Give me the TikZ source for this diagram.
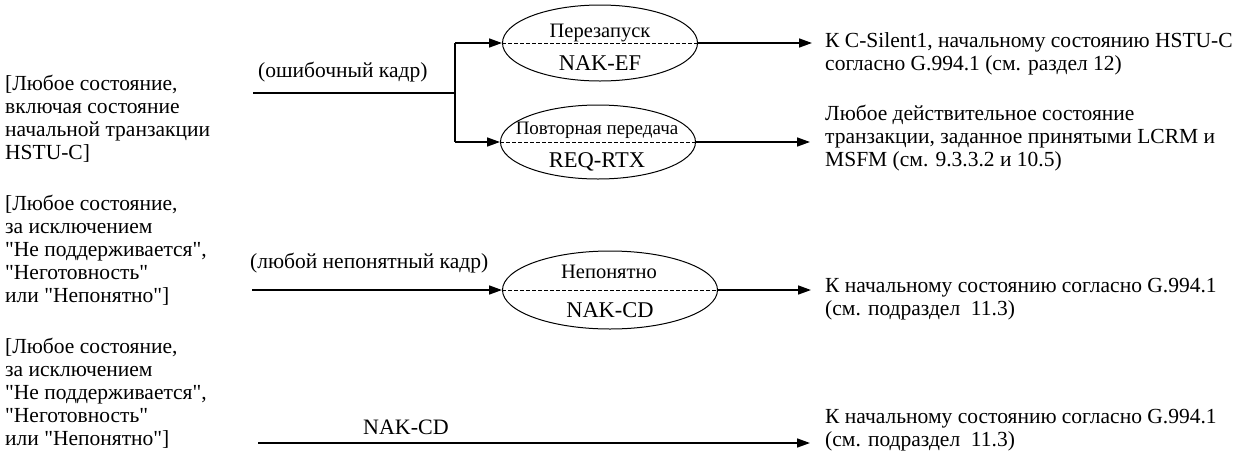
\documentclass[tikz,border=0pt]{standalone}
\usepackage{fontspec}
\setmainfont{Liberation Serif}[Ligatures=TeXOff]
\usetikzlibrary{shapes.geometric,arrows.meta}

\begin{document}
\begin{tikzpicture}[x=1pt,y=-1pt,
  txt/.style={font=\fontsize{21.5}{23}\selectfont, align=left, inner sep=0pt, anchor=north west},
  lbl/.style={font=\fontsize{21.5}{23}\selectfont, inner sep=0pt},
  toplbl/.style={font=\fontsize{20.5}{23}\selectfont, inner sep=0pt, anchor=base},
  botlbl/.style={font=\fontsize{22.5}{24}\selectfont, inner sep=0pt, anchor=base},
  st/.style={draw, ellipse, line width=1pt, inner sep=0pt},
  mid/.style={line width=1pt, dash pattern=on 4pt off 2pt},
  flow/.style={line width=1.6pt},
  arr/.style={line width=1.6pt, -{Triangle[length=13pt,width=9pt]}}
]
\useasboundingbox (0,0) rectangle (1243,459);

% source states
\node[txt] (s1) at (5,74) {\strut[Любое состояние,\\включая состояние\\начальной транзакции\\HSTU-C]};
\node[txt] (s2) at (5,194) {\strut[Любое состояние,\\за исключением\\"Не поддерживается",\\"Неготовность"\\или "Непонятно"]};
\node[txt] (s3) at (5,337) {\strut[Любое состояние,\\за исключением\\"Не поддерживается",\\"Неготовность"\\или "Непонятно"]};

% state ellipses, split by a dashed line
\node[st, minimum width=195pt, minimum height=76pt] (e1) at (600,43) {};
\node[st, minimum width=195pt, minimum height=74pt] (e2) at (598,142) {};
\node[st, minimum width=215pt, minimum height=78pt] (e3) at (610,290) {};
\draw[mid] (e1.west) -- (e1.east);
\draw[mid] (e2.west) -- (e2.east);
\draw[mid] (e3.west) -- (e3.east);
\node[toplbl] (e1t) at (600,37.5) {Перезапуск};
\node[botlbl] (e1b) at (600,70.5) {NAK-EF};
\node[toplbl, font=\fontsize{19}{23}\selectfont] (e2t) at (597,134.5) {Повторная передача};
\node[botlbl] (e2b) at (597,167.5) {REQ-RTX};
\node[toplbl] (e3t) at (609,278) {Непонятно};
\node[botlbl] (e3b) at (610,317.5) {NAK-CD};

% erroneous frame: one input split to two states
\coordinate (in1) at (253,93);
\coordinate (j1) at (455,93);
\coordinate (j1a) at (455,43);
\coordinate (j1b) at (455,142);
\draw[flow] (in1) -- (j1);
\draw[flow] (j1a) -- (j1b);
\draw[arr] (j1a) -- (e1.west);
\draw[arr] (j1b) -- (e2.west);
\node[lbl, anchor=base west] (l1) at (258,77) {(ошибочный кадр)};

% unintelligible frame
\coordinate (in2) at (252,290);
\draw[arr] (in2) -- (e3.west);
\node[lbl, anchor=base west] (l2) at (250,268) {(любой непонятный кадр)};

% direct NAK-CD
\coordinate (in3) at (258,443);
\coordinate (o4) at (810,443);
\draw[arr] (in3) -- (o4);
\node[lbl, anchor=base, font=\fontsize{22}{23}\selectfont] (l3) at (406,434) {NAK-CD};

% outcomes
\coordinate (o1) at (812,43);
\coordinate (o2) at (810,142);
\coordinate (o3) at (811,290);
\draw[arr] (e1.east) -- (o1);
\draw[arr] (e2.east) -- (o2);
\draw[arr] (e3.east) -- (o3);

\node[txt] (r1) at (825,31) {\strut К C-Silent1, начальному состоянию HSTU-C\\согласно G.994.1 (см. раздел 12)};
\node[txt] (r2) at (825,104) {\strut Любое действительное состояние\\транзакции, заданное принятыми LCRM и\\MSFM (см. 9.3.3.2 и 10.5)};
\node[txt] (r3) at (825,276) {\strut К начальному состоянию согласно G.994.1\\(см. подраздел~ 11.3)};
\node[txt] (r4) at (825,407) {\strut К начальному состоянию согласно G.994.1\\(см. подраздел~ 11.3)};
\end{tikzpicture}
\end{document}
